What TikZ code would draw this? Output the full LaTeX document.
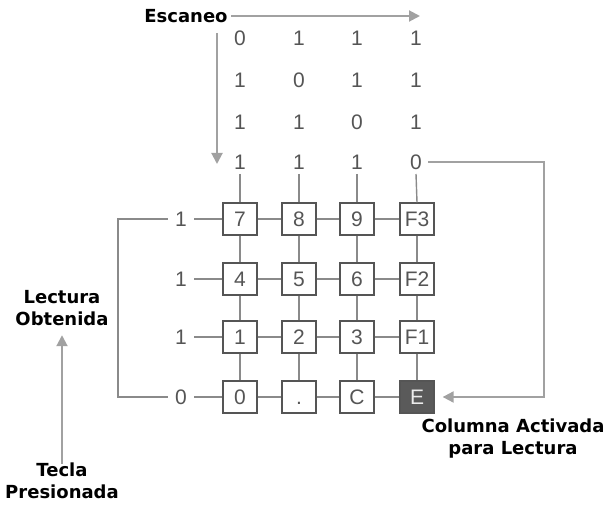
\documentclass[tikz,border=0pt]{standalone}
\usepackage{fontspec}
\setmainfont{Liberation Sans}
\newfontfamily\labelfont{DejaVu Sans}
\usetikzlibrary{arrows.meta}
\definecolor{wiregray}{HTML}{8A8A8A}
\definecolor{textgray}{HTML}{555555}
\definecolor{keydark}{HTML}{5A5A5A}
\begin{document}
\begin{tikzpicture}[
				x=1pt, y=-1pt,
				key/.style={rectangle, draw=textgray, line width=1.3pt, minimum width=34pt, minimum height=32pt, inner sep=0pt, text height=15pt, text depth=0pt, text=textgray, font=\fontsize{21}{21}\selectfont},
				bit/.style={inner sep=1pt, text=textgray, font=\fontsize{21}{21}\selectfont},
				rowbit/.style={bit, inner xsep=7pt},
				caption/.style={align=center, font=\labelfont\bfseries\fontsize{18}{22}\selectfont},
				wire/.style={draw=wiregray, line width=1.4pt},
				flow/.style={draw=wiregray!80, line width=2pt, -{Triangle[length=11pt, width=11pt]}}
			]
			\useasboundingbox (0,0) rectangle (607,505);
			% scan matrix
			\node[bit] (b-1-1) at (240,38) {0};
			\node[bit] (b-1-2) at (299,38) {1};
			\node[bit] (b-1-3) at (357,38) {1};
			\node[bit] (b-1-4) at (416,38) {1};
			\node[bit] (b-2-1) at (240,80) {1};
			\node[bit] (b-2-2) at (299,80) {0};
			\node[bit] (b-2-3) at (357,80) {1};
			\node[bit] (b-2-4) at (416,80) {1};
			\node[bit] (b-3-1) at (240,122) {1};
			\node[bit] (b-3-2) at (299,122) {1};
			\node[bit] (b-3-3) at (357,122) {0};
			\node[bit] (b-3-4) at (416,122) {1};
			\node[bit] (b-4-1) at (240,162) {1};
			\node[bit] (b-4-2) at (299,162) {1};
			\node[bit] (b-4-3) at (357,162) {1};
			\node[bit, inner xsep=6pt] (b-4-4) at (416,162) {0};
			% keypad
			\node[key] (k-1-1) at (240,219) {7};
			\node[key] (k-1-2) at (299,219) {8};
			\node[key] (k-1-3) at (357,219) {9};
			\node[key] (k-1-4) at (417,219) {F3};
			\node[key] (k-2-1) at (240,279) {4};
			\node[key] (k-2-2) at (299,279) {5};
			\node[key] (k-2-3) at (357,279) {6};
			\node[key] (k-2-4) at (417,279) {F2};
			\node[key] (k-3-1) at (240,337) {1};
			\node[key] (k-3-2) at (299,337) {2};
			\node[key] (k-3-3) at (357,337) {3};
			\node[key] (k-3-4) at (417,337) {F1};
			\node[key] (k-4-1) at (240,397) {0};
			\node[key] (k-4-2) at (299,397) {.};
			\node[key] (k-4-3) at (357,397) {C};
			\node[key, fill=keydark, text=white!85!gray] (k-4-4) at (417,397) {E};
			% row readings
			\node[rowbit] (r-1) at (181,219) {1};
			\node[rowbit] (r-2) at (181,279) {1};
			\node[rowbit] (r-3) at (181,337) {1};
			\node[rowbit] (r-4) at (181,397) {0};
			% wires
			\foreach \c in {1,...,4} {
				\draw[wire] (b-4-\c) ++(0,12) -- (k-1-\c.north);
				\draw[wire] (k-1-\c) -- (k-2-\c);
				\draw[wire] (k-2-\c) -- (k-3-\c);
				\draw[wire] (k-3-\c) -- (k-4-\c);
			}
			\foreach \r in {1,...,4} {
				\draw[wire] (r-\r) -- (k-\r-1);
				\draw[wire] (k-\r-1) -- (k-\r-2);
				\draw[wire] (k-\r-2) -- (k-\r-3);
				\draw[wire] (k-\r-3) -- (k-\r-4);
			}
			\draw[wire] (r-1.west) -- (118,219) |- (r-4.west);
			\draw[flow] (b-4-4.east) -- (544,162) |- ([xshift=8pt]k-4-4.east);
			% captions
			\node[caption] (scan) at (186,16) {Escaneo};
			\node[caption] (reading) at (62,308) {Lectura\\Obtenida};
			\node[caption] (pressed) at (62,481) {Tecla\\Presionada};
			\node[caption] (active) at (513,439) {Columna Activada\\para Lectura};
			\draw[flow] (scan.east) -- (420,16);
			\draw[flow] (217,33) -- (217,164);
			\draw[flow] ([yshift=-4pt]pressed.north) -- ([yshift=-6pt]reading.south);
		\end{tikzpicture}
\end{document}
